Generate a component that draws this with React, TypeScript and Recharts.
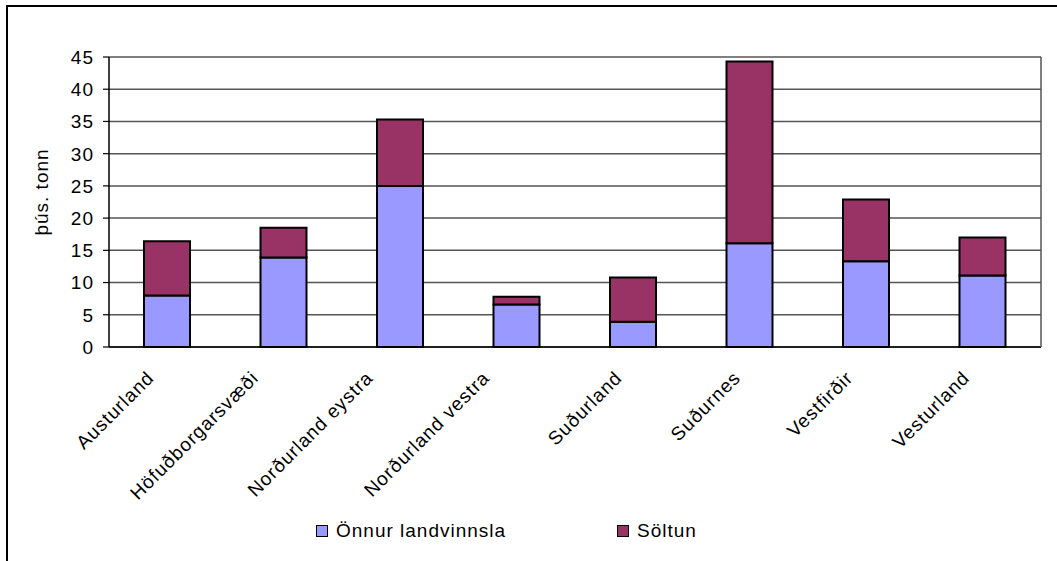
import React from 'react';
import { BarChart, Bar, XAxis, YAxis, CartesianGrid, Label } from 'recharts';

const regions = [
  'Austurland',
  'Höfuðborgarsvæði',
  'Norðurland eystra',
  'Norðurland vestra',
  'Suðurland',
  'Suðurnes',
  'Vestfirðir',
  'Vesturland',
];
const onnurLandvinnsla = [8.0, 13.9, 25.0, 6.6, 3.9, 16.1, 13.3, 11.1];
const soltun = [8.4, 4.6, 10.3, 1.2, 6.9, 28.2, 9.6, 5.9];
const yTicks = [0, 5, 10, 15, 20, 25, 30, 35, 40, 45];
const seriesNames = ['Önnur landvinnsla', 'Söltun'];
const seriesColors = ['#9999FF', '#993366'];
const yLabel = 'þús. tonn';

const data = regions.map((name, i) => ({
  name,
  onnur: onnurLandvinnsla[i],
  soltun: soltun[i],
}));

const FONT = '"Liberation Sans", Arial, sans-serif';
const textStyle = { fontFamily: FONT, fontSize: 19, letterSpacing: 1, fill: '#000' };

function YTick(props: any) {
  const { x, y, payload } = props;
  return (
    <text x={x} y={y} dy="0.36em" textAnchor="end" style={textStyle}>
      {payload.value}
    </text>
  );
}

function XTick(props: any) {
  const { x, y, payload } = props;
  const label = String(payload.value);
  // longer labels sit a bit further left, like the spreadsheet renderer
  const shift = label.length * 2 - 8;
  return (
    <g transform={`translate(${x - shift},${y + 32}) rotate(-45)`}>
      <text x={0} y={0} textAnchor="end" style={textStyle}>
        {label}
      </text>
    </g>
  );
}

export default function App() {
  return (
    <div
      style={{
        position: 'absolute',
        left: 0,
        top: 0,
        width: 1057,
        height: 561,
        overflow: 'hidden',
        background: '#fff',
      }}
    >
      <div
        style={{
          position: 'absolute',
          left: 6,
          top: 5,
          width: 1200,
          height: 700,
          borderLeft: '2px solid #000',
          borderTop: '2px solid #000',
        }}
      />
      <div style={{ position: 'absolute', left: 0, top: 0 }}>
        <BarChart
          width={1057}
          height={561}
          data={data}
          margin={{ top: 57, right: 0, bottom: 0, left: 0 }}
        >
          <CartesianGrid vertical={false} stroke="#555" strokeWidth={1.5} />
          <XAxis
            dataKey="name"
            height={214}
            interval={0}
            tickSize={0}
            tickMargin={0}
            axisLine={{ stroke: '#000', strokeWidth: 1.5 }}
            tick={<XTick />}
          />
          <YAxis
            width={109}
            domain={[0, 45]}
            ticks={yTicks}
            interval={0}
            tickSize={6}
            tickMargin={9}
            axisLine={{ stroke: '#000', strokeWidth: 1.5 }}
            tickLine={{ stroke: '#000', strokeWidth: 1.2 }}
            tick={<YTick />}
          >
            <Label
              content={() => (
                <text
                  transform="translate(48,192) rotate(-90)"
                  textAnchor="middle"
                  style={textStyle}
                >
                  {yLabel}
                </text>
              )}
            />
          </YAxis>
          <YAxis
            yAxisId="right"
            orientation="right"
            width={16}
            domain={[0, 45]}
            tick={false}
            tickLine={false}
            axisLine={{ stroke: '#555', strokeWidth: 1.5 }}
          />
          <Bar
            dataKey="onnur"
            name={seriesNames[0]}
            stackId="a"
            fill={seriesColors[0]}
            stroke="#000"
            strokeWidth={2}
            barSize={46}
            isAnimationActive={false}
          />
          <Bar
            dataKey="soltun"
            name={seriesNames[1]}
            stackId="a"
            fill={seriesColors[1]}
            stroke="#000"
            strokeWidth={2}
            barSize={46}
            isAnimationActive={false}
          />
        </BarChart>
      </div>
      {seriesNames.map((s, i) => (
        <div
          key={s}
          style={{
            position: 'absolute',
            left: i === 0 ? 316 : 617,
            top: 520,
            display: 'flex',
            alignItems: 'center',
            fontFamily: FONT,
            fontSize: 19,
            letterSpacing: 1,
            color: '#000',
            whiteSpace: 'nowrap',
          }}
        >
          <span
            style={{
              display: 'inline-block',
              width: 10,
              height: 10,
              background: seriesColors[i],
              border: '1.5px solid #000',
              marginRight: 8,
            }}
          />
          {s}
        </div>
      ))}
    </div>
  );
}
